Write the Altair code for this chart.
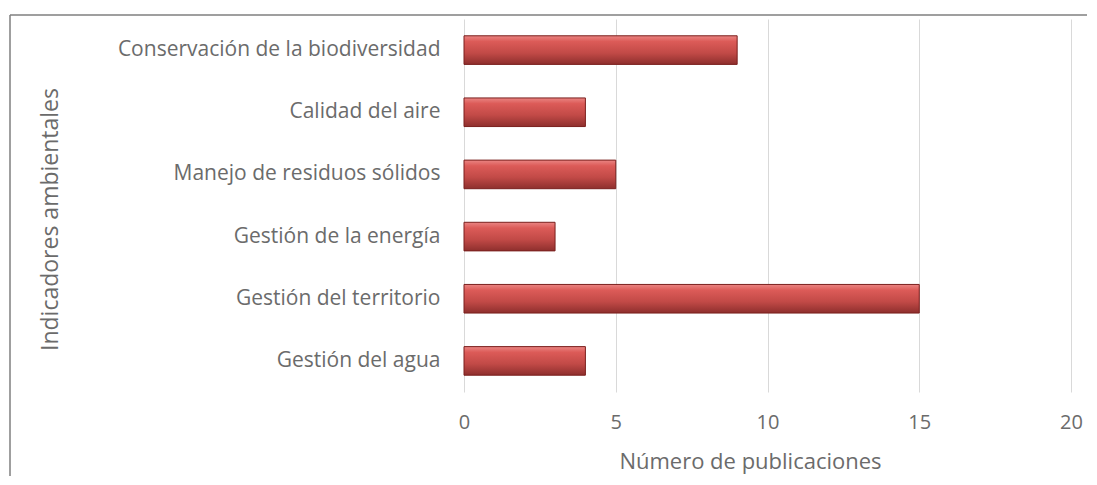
import altair as alt
import pandas as pd

categories = [
    "Conservación de la biodiversidad",
    "Calidad del aire",
    "Manejo de residuos sólidos",
    "Gestión de la energía",
    "Gestión del territorio",
    "Gestión del agua",
]
values = [9, 4, 5, 3, 15, 4]
x_ticks = [0, 5, 10, 15, 20]

df = pd.DataFrame({"cat": categories, "val": values})

FONT = "Open Sans"
GRAY = "#6b6b6b"

grad = alt.Gradient(
    gradient="linear",
    x1=0, y1=0, x2=0, y2=1,
    stops=[
        alt.GradientStop(offset=0, color="#ea8583"),
        alt.GradientStop(offset=0.2, color="#dc5b58"),
        alt.GradientStop(offset=0.6, color="#c24a47"),
        alt.GradientStop(offset=1, color="#8e2f2d"),
    ],
)

bars = alt.Chart(df).mark_bar(
    fill=grad, stroke="#7a1f1d", strokeWidth=1
).encode(
    x=alt.X(
        "val:Q",
        scale=alt.Scale(domain=[0, 20], nice=False),
        axis=alt.Axis(
            values=x_ticks,
            title="Número de publicaciones",
            grid=True,
            gridColor="#d9d9d9",
            gridWidth=1,
            domain=False,
            ticks=False,
            labelFlush=False,
            labelOverlap=False,
            labelFont=FONT,
            labelFontSize=20,
            labelColor=GRAY,
            labelPadding=20,
            titleFont=FONT,
            titleFontSize=22,
            titleFontWeight="normal",
            titleColor=GRAY,
            titleX=286,
            titleY=76,
            titleBaseline="alphabetic",
            titleAnchor="middle",
            titleAlign="center",
        ),
    ),
    y=alt.Y(
        "cat:N",
        sort=categories,
        scale=alt.Scale(paddingInner=0.54, paddingOuter=0.27),
        axis=alt.Axis(
            title="Indicadores ambientales",
            domain=False,
            ticks=False,
            labelFont=FONT,
            labelFontSize=21,
            labelColor=GRAY,
            labelPadding=24,
            labelLimit=500,
            titleFont=FONT,
            titleFontSize=23,
            titleFontWeight="normal",
            titleColor=GRAY,
            titleAngle=270,
            titleX=-414,
            titleY=200,
            titleBaseline="middle",
            titleAlign="center",
        ),
    ),
)

frame_top = alt.Chart(df.head(1)).mark_rule(color="#7f7f7f", strokeWidth=1.5, clip=False).encode(
    x=alt.value(-454), x2=alt.value(630), y=alt.value(-4)
)
frame_left = alt.Chart(df.head(1)).mark_rule(color="#7f7f7f", strokeWidth=1.5, clip=False).encode(
    x=alt.value(-454), y=alt.value(-4), y2=alt.value(480)
)

chart = (
    alt.layer(bars, frame_top, frame_left)
    .properties(
        width=607,
        height=373,
        autosize=alt.AutoSizeParams(type="none"),
        padding={"left": 456, "top": 11, "right": 16, "bottom": 84},
    )
    .configure(background="white", view=alt.ViewConfig(stroke="transparent", strokeWidth=0))
)

chart.save("out.html", embed_options={"renderer": "svg", "actions": False})
